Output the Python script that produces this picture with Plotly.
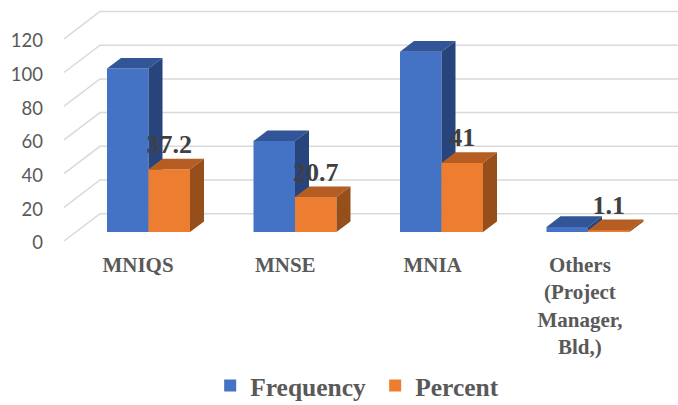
import plotly.graph_objects as go

categories = ["MNIQS", "MNSE", "MNIA", "Others<br>(Project<br>Manager,<br>Bld,)"]
frequency = [97, 54, 107, 3]
percent = [37.2, 20.7, 41, 1.1]
percent_labels = ["37.2", "20.7", "41", "1.1"]
y_ticks = [0, 20, 40, 60, 80, 100, 120]

W, H = 678, 405
ML, MB = 47, 155
PX_PER_UNIT = 1.685
SPACING = 146.5
BAR_W = 41.5 / SPACING
DX = 14 / SPACING
DY = 10.6 / PX_PER_UNIT
LABEL_LIFT = 23 / PX_PER_UNIT
plot_bottom = H - MB

def x_range(origin, spacing):
    return [(ML - origin) / spacing, (W - origin) / spacing]

def y_range(zero_px):
    return [(zero_px - plot_bottom) / PX_PER_UNIT, zero_px / PX_PER_UNIT]

LABEL_SPACING = 147.3
LABEL_ORIGIN = 138
TICK_ZERO_PX = 243
fig = go.Figure()

# back wall and floor grid, drawn relative to the tick-label plane
lift = (TICK_ZERO_PX - 213.7) / PX_PER_UNIT
front_lift = (TICK_ZERO_PX - 241) / PX_PER_UNIT
wall_left = (100 - LABEL_ORIGIN) / LABEL_SPACING
front_left = (64 - LABEL_ORIGIN) / LABEL_SPACING
right_end = x_range(LABEL_ORIGIN, LABEL_SPACING)[1]
gx, gy = [], []
for t in y_ticks:
    gx += [front_left, wall_left, right_end, None]
    gy += [t + front_lift, t + lift, t + lift, None]
fig.add_trace(go.Scatter(x=gx, y=gy, mode="lines", showlegend=False, hoverinfo="skip",
                         line=dict(color="#D9D9D9", width=1.5)))

def add_series(name, values, offset, front, top, side, yaxis):
    xs = [i + offset for i in range(len(values))]
    fig.add_trace(go.Bar(x=xs, y=values, width=BAR_W, name=name, marker=dict(color=front, line_width=0),
                         xaxis="x2", yaxis=yaxis))
    for x, v in zip(xs, values):
        l, r = x - BAR_W / 2, x + BAR_W / 2
        fig.add_trace(go.Scatter(x=[l, l + DX, r + DX, r, l], y=[v, v + DY, v + DY, v, v], fill="toself",
                                 fillcolor=top, mode="none", showlegend=False, hoverinfo="skip",
                                 xaxis="x2", yaxis=yaxis))
        fig.add_trace(go.Scatter(x=[r, r + DX, r + DX, r, r], y=[0, DY, v + DY, v, 0], fill="toself",
                                 fillcolor=side, mode="none", showlegend=False, hoverinfo="skip",
                                 xaxis="x2", yaxis=yaxis))

add_series("Frequency", frequency, -BAR_W / 2, "#4472C4", "#315596", "#27447C", "y2")
add_series("Percent", percent, BAR_W / 2, "#ED7D31", "#B55D22", "#964F1B", "y3")

fig.add_trace(go.Scatter(x=[i + BAR_W / 2 for i in range(len(percent))],
                         y=[v + LABEL_LIFT for v in percent], mode="text", text=percent_labels,
                         textposition="middle center", showlegend=False, hoverinfo="skip",
                         textfont=dict(family="Liberation Serif", size=26, color="#404040", weight="bold"),
                         xaxis="x2", yaxis="y3"))

hidden = dict(visible=False, showgrid=False, zeroline=False, fixedrange=True)
fig.update_layout(
    width=W, height=H, autosize=False,
    margin=dict(l=ML, r=0, t=0, b=MB, autoexpand=False),
    paper_bgcolor="white", plot_bgcolor="white", barmode="overlay",
    xaxis=dict(range=x_range(LABEL_ORIGIN, LABEL_SPACING), tickmode="array",
               tickvals=list(range(len(categories))), ticktext=categories, ticks="", ticklen=0,
               showgrid=False, zeroline=False, showline=False,
               tickfont=dict(family="Liberation Serif", size=21, color="#595959", weight="bold")),
    yaxis=dict(range=y_range(TICK_ZERO_PX), tickmode="array", tickvals=y_ticks, ticks="", showgrid=False,
               zeroline=False, showline=False, ticklabelstandoff=3,
               tickfont=dict(family="Lato", size=18.5, color="#595959")),
    xaxis2=dict(range=x_range(148.5, SPACING), overlaying="x", **hidden),
    yaxis2=dict(range=y_range(232), overlaying="y", **hidden),
    yaxis3=dict(range=y_range(232), overlaying="y", **hidden),
    legend=dict(orientation="h", xref="container", yref="container", x=0.31, y=0.105,
                xanchor="left", yanchor="top", traceorder="normal",
                entrywidth=120, entrywidthmode="pixels",
                font=dict(family="Liberation Serif", size=25.5, color="#595959", weight="bold"),
                bgcolor="rgba(0,0,0,0)"),
    showlegend=True,
)
fig.write_html("out.html", config={"displayModeBar": False},
               post_script="document.body.style.margin='0';document.documentElement.style.overflow='hidden';")
